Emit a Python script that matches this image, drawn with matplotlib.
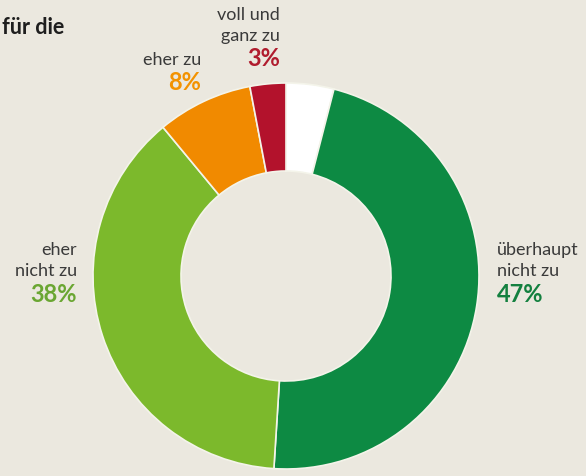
import matplotlib.pyplot as plt

plt.rcParams['font.family'] = ['Lato', 'DejaVu Sans']

labels = ['keine Angabe', 'überhaupt\nnicht zu', 'eher\nnicht zu', 'eher zu', 'voll und\nganz zu']
values = [4, 47, 38, 8, 3]
colors = ['#ffffff', '#0d8a43', '#7cb92c', '#f18a00', '#b3122c']
pct_colors = ['#ffffff', '#13803f', '#6aa632', '#f39200', '#b01c2e']

bg = '#ebe8df'
fig = plt.figure(figsize=(5.86, 4.77), dpi=100, facecolor=bg)
ax = fig.add_axes([0, 0, 1, 1])
ax.set_facecolor(bg)

H = 477
ax.pie(values, colors=colors, startangle=90, counterclock=False,
       center=(286, H - 277), radius=193, frame=True,
       wedgeprops=dict(width=88, edgecolor='#f4f4ea', linewidth=1.2))
ax.set_xlim(0, 586)
ax.set_ylim(0, 477)
ax.set_aspect('equal')
ax.axis('off')

txt = '#3a3a3a'
fs = 13
pfs = 17
# label anchor (x, y of first line), alignment
pos = {
    1: (497, 250, 'left'),
    2: (77, 250, 'right'),
    3: (201, 60, 'right'),
    4: (280, 15, 'right'),
}
for i, (x, y, ha) in pos.items():
    lines = labels[i].split('\n')
    for k, line in enumerate(lines):
        ax.text(x, H - (y + 21.5 * k), line, ha=ha, va='center', fontsize=fs, color=txt)
    ax.text(x, H - (y + 21.5 * len(lines) + 1), f'{values[i]}%', ha=ha, va='center',
            fontsize=pfs, fontweight='bold', color=pct_colors[i])

ax.text(2, H - 28, 'für die', ha='left', va='center', fontsize=15.5,
        fontweight='bold', color='#1e1e1e')

fig.savefig('out.png', dpi=100, facecolor=bg)
